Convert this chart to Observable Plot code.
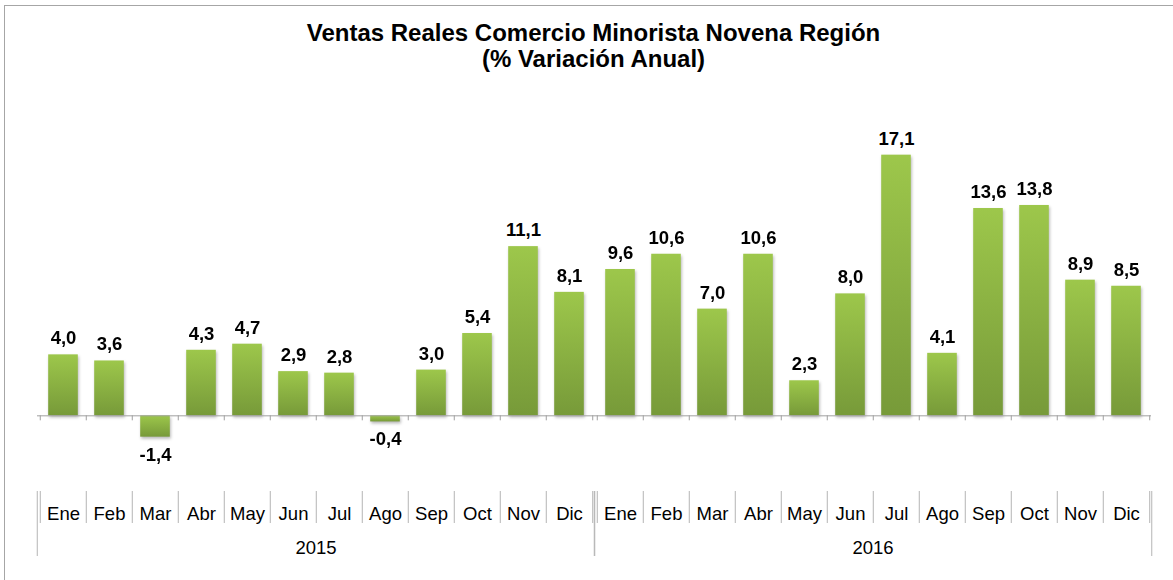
<!DOCTYPE html>
<html>
<head>
<meta charset="utf-8">
<script src="https://cdn.jsdelivr.net/npm/d3@7"></script>
<script src="https://cdn.jsdelivr.net/npm/@observablehq/plot@0.6"></script>
<style>
  html, body { margin: 0; padding: 0; background: #fff; }
  body { font-family: "Liberation Sans", Arial, sans-serif; }
  #wrap { position: relative; width: 1173px; height: 580px; overflow: hidden; background: #fff; }
  #frame { position: absolute; left: 4px; top: 5px; width: 1190px; height: 600px; border: 1px solid #a6a6a6; box-sizing: border-box; pointer-events: none; }
  #title { position: absolute; left: 36px; top: 20px; width: 1115px; text-align: center; font-weight: bold; font-size: 24px; line-height: 25.7px; color: #000; }
  #chart { position: absolute; left: 0; top: 85px; }
  #chart g[aria-label="bar"] { filter: drop-shadow(1.5px 2px 1.5px rgba(0,0,0,0.28)); }
</style>
</head>
<body>
<div id="wrap">
  <svg width="0" height="0" style="position:absolute">
    <defs>
      <linearGradient id="barGrad" x1="0" y1="0" x2="0" y2="1">
        <stop offset="0%" stop-color="#9dc74b"/>
        <stop offset="100%" stop-color="#779a39"/>
      </linearGradient>
    </defs>
  </svg>
  <div id="frame"></div>
  <div id="title">Ventas Reales Comercio Minorista Novena Región<br>(% Variación Anual)</div>
  <div id="chart"></div>
</div>
<script>
const years = ["2015", "2016"];
const months = ["Ene", "Feb", "Mar", "Abr", "May", "Jun", "Jul", "Ago", "Sep", "Oct", "Nov", "Dic"];
const values2015 = [4.0, 3.6, -1.4, 4.3, 4.7, 2.9, 2.8, -0.4, 3.0, 5.4, 11.1, 8.1];
const values2016 = [9.6, 10.6, 7.0, 10.6, 2.3, 8.0, 17.1, 4.1, 13.6, 13.8, 8.9, 8.5];

const data = [
  ...values2015.map((v, i) => ({year: years[0], month: months[i], value: v})),
  ...values2016.map((v, i) => ({year: years[1], month: months[i], value: v}))
];

const fmt = v => v.toFixed(1).replace(".", ",");

const W = 1173, H = 495, ML = 36, MR = 22;
const facetW = (W - ML - MR) / years.length;
const halfStep = facetW / months.length / 2;
const halfFacet = facetW / 2;
const axisGray = "#a0a0a0";
const sepGray = "#b4b4b4";
const font = "'Liberation Sans', Arial, sans-serif";
const FS = 18.5;

const chart = Plot.plot({
  width: W,
  height: H,
  marginLeft: ML,
  marginRight: MR,
  marginTop: 40.7,
  marginBottom: 103.7,
  style: {fontFamily: font, fontSize: FS + "px", color: "#000", background: "transparent", overflow: "visible"},
  fx: {domain: years, padding: 0, axis: null, label: null},
  x: {domain: months, padding: 0, axis: null, label: null},
  y: {domain: [-4, 19], axis: null},
  marks: [
    Plot.barY(data, {fx: "year", x: "month", y: "value", fill: "url(#barGrad)", insetLeft: 8.2, insetRight: 8.2}),
    Plot.ruleY([0], {stroke: axisGray, strokeWidth: 1}),
    Plot.ruleX(months, {x: d => d, y1: 0, y2: 0, insetBottom: -5, dx: -halfStep, stroke: axisGray}),
    Plot.ruleX(["Dic"], {x: d => d, y1: 0, y2: 0, insetBottom: -5, dx: halfStep, stroke: axisGray}),
    Plot.axisX(months, {anchor: "bottom", tickSize: 32, fill: "none", dy: 14.7, dx: -halfStep, stroke: sepGray, label: null}),
    Plot.axisX(["Dic"], {anchor: "bottom", tickSize: 32, fill: "none", dy: 14.7, dx: halfStep, stroke: sepGray, label: null}),
    Plot.axisX(months, {anchor: "bottom", tickSize: 0, tickPadding: 0, dy: 30.1, label: null, fill: "#000", fontSize: FS}),
    Plot.axisFx({anchor: "bottom", tickSize: 65, fill: "none", dy: 14.7, dx: -halfFacet, stroke: sepGray, label: null}),
    Plot.axisFx({anchor: "bottom", tickSize: 65, fill: "none", dy: 14.7, dx: halfFacet, stroke: sepGray, label: null}),
    Plot.axisFx({anchor: "bottom", tickSize: 0, tickPadding: 0, dy: 64.1, label: null, fill: "#000", fontSize: FS}),
    Plot.text(data.filter(d => d.value >= 0), {fx: "year", x: "month", y: "value", text: d => fmt(d.value), dy: -16.5, fontWeight: "bold", fontSize: FS, fill: "#000"}),
    Plot.text(data.filter(d => d.value < 0), {fx: "year", x: "month", y: "value", text: d => fmt(d.value), dy: 17.5, fontWeight: "bold", fontSize: FS, fill: "#000"})
  ]
});
document.getElementById("chart").appendChild(chart);
</script>
</body>
</html>
